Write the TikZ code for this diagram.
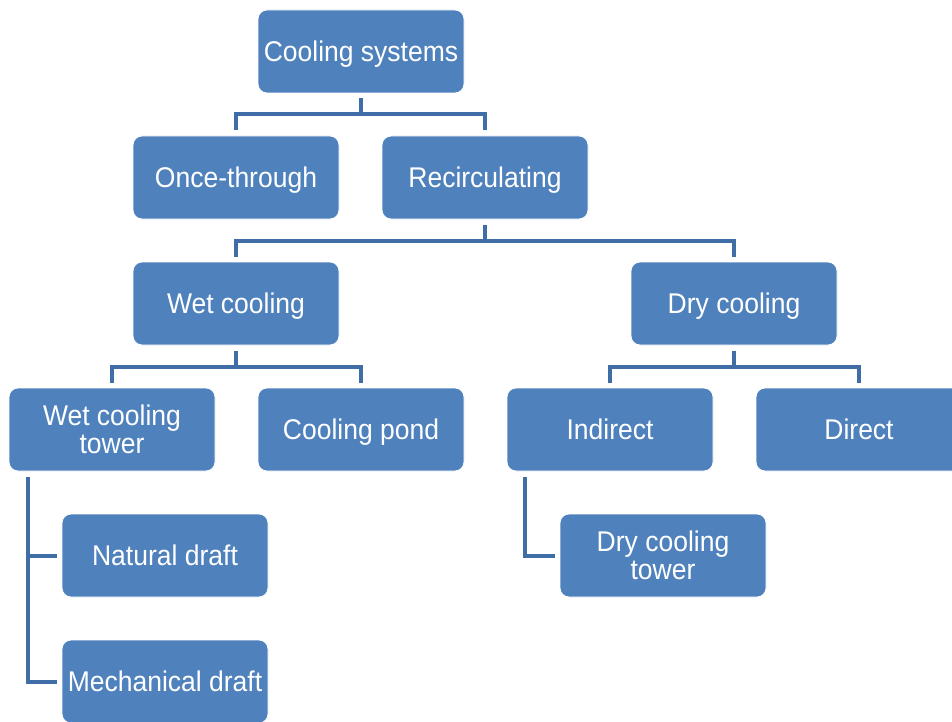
\documentclass[tikz,border=0pt]{standalone}
\usepackage{fontspec}
\setmainfont{Liberation Sans}[FakeStretch=0.93]
\definecolor{boxfill}{HTML}{4F81BD}
\definecolor{linecol}{HTML}{3F6EA6}
\tikzset{
  box/.style={rectangle, rounded corners=9pt, fill=boxfill, draw=white, line width=0.8pt,
    minimum width=206pt, minimum height=83pt, inner sep=0pt, outer sep=5.5pt,
    text=white, align=center, font=\fontsize{28.5}{27.7}\selectfont},
  one/.style={box, text height=25pt, text depth=5pt},
  conn/.style={draw=linecol, line width=4pt}
}
\begin{document}
\begin{tikzpicture}[x=1pt,y=-1pt]
\useasboundingbox (0,0) rectangle (952,722);
\clip (0,0) rectangle (952,722);
\node[one] (cs) at (361,51.5) {Cooling systems};
\node[one] (ot) at (236,177.5) {Once-through};
\node[one] (rc) at (485,177.5) {Recirculating};
\node[one] (wc) at (236,303.5) {Wet cooling};
\node[one] (dc) at (734,303.5) {Dry cooling};
\node[box] (wct) at (112,429.5) {Wet cooling\\tower};
\node[one] (cp) at (361,429.5) {Cooling pond};
\node[one] (ind) at (610,429.5) {Indirect};
\node[one] (dir) at (859,429.5) {Direct};
\node[one] (nd) at (165,555.5) {Natural draft};
\node[box] (dct) at (663,555.5) {Dry cooling\\tower};
\node[one] (md) at (165,681.5) {Mechanical draft};

\draw[conn] (cs.south) -- ++(0,16) -| (ot.north);
\draw[conn] (cs.south) -- ++(0,16) -| (rc.north);
\draw[conn] (rc.south) -- ++(0,16) -| (wc.north);
\draw[conn] (rc.south) -- ++(0,16) -| (dc.north);
\draw[conn] (wc.south) -- ++(0,16) -| (wct.north);
\draw[conn] (wc.south) -- ++(0,16) -| (cp.north);
\draw[conn] (dc.south) -- ++(0,16) -| (ind.north);
\draw[conn] (dc.south) -- ++(0,16) -| (dir.north);
\draw[conn] ([xshift=24.5pt]wct.south west) |- (nd.west);
\draw[conn] ([xshift=24.5pt]wct.south west) |- (md.west);
\draw[conn] ([xshift=23.5pt]ind.south west) |- (dct.west);
\end{tikzpicture}
\end{document}
